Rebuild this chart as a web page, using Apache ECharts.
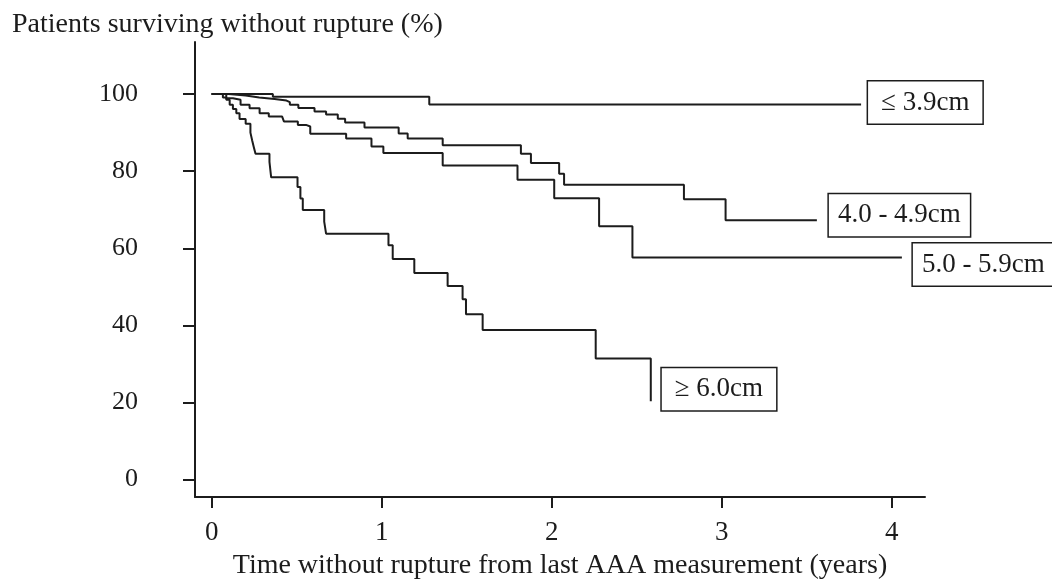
<!DOCTYPE html>
<html>
<head>
<meta charset="utf-8">
<script src="https://cdn.jsdelivr.net/npm/echarts@6/dist/echarts.min.js"></script>
<style>
  html, body { margin: 0; padding: 0; background: #fff; }
  #chart { width: 1052px; height: 585px; }
</style>
</head>
<body>
<div id="chart"></div>
<script>
// Kaplan-Meier survival without rupture, by aneurysm diameter group
const groupNames = ['≤ 3.9cm', '4.0 - 4.9cm', '5.0 - 5.9cm', '≥ 6.0cm'];

const yearsUpTo39 = [0, 0.36, 1.28, 3.82];
const survUpTo39  = [100, 99.3, 97.3, 97.3];

const years40to49 = [0, 0.10, 0.20, 0.28, 0.37, 0.44, 0.46, 0.51, 0.605, 0.673, 0.742, 0.785, 0.899,
                     1.10, 1.153, 1.359, 1.819, 1.878, 2.044, 2.073, 2.778, 3.023, 3.56];
const surv40to49  = [100, 99.6, 99.1, 98.7, 98.3, 97.9, 97.2, 96.4, 95.5, 94.7, 93.6, 92.6, 91.3,
                     89.8, 88.5, 86.7, 84.5, 82.1, 79.3, 76.5, 72.7, 67.3, 67.3];

const years50to59 = [0, 0.086, 0.125, 0.17, 0.223, 0.282, 0.336, 0.414, 0.425, 0.507, 0.555, 0.58,
                     0.791, 0.94, 1.01, 1.359, 1.799, 2.015, 2.279, 2.475, 4.06];
const surv50to59  = [100, 98.9, 98.5, 97.2, 96.3, 95.0, 94.2, 93.7, 92.9, 92.0, 91.6, 89.7,
                     88.5, 86.4, 84.7, 81.5, 77.8, 73.0, 65.7, 57.6, 57.6];

const years60plus = [0, 0.066, 0.086, 0.106, 0.125, 0.145, 0.164, 0.20, 0.228, 0.238, 0.248, 0.258,
                     0.34, 0.35, 0.505, 0.522, 0.536, 0.662, 0.673, 1.04, 1.065, 1.192, 1.388,
                     1.476, 1.496, 1.594, 2.259, 2.583];
const surv60plus  = [100, 99.1, 98.5, 97.2, 96.1, 95.0, 93.5, 92.3, 90.0, 88.0, 86.2, 84.5,
                     82.4, 78.4, 75.9, 72.9, 69.9, 66.9, 63.8, 60.8, 57.2, 53.6, 50.2,
                     46.8, 42.9, 38.8, 31.4, 20.3];

const yearTicks = [0, 1, 2, 3, 4];
const percentTicks = [0, 20, 40, 60, 80, 100];

const titleText = 'Patients surviving without rupture (%)';
const xAxisName = 'Time without rupture from last AAA measurement (years)';

const SERIF = '"Liberation Serif", "DejaVu Serif", serif';
const INK = '#1c1c1c';

function pairs(xs, ys) {
  return xs.map((x, i) => [x, ys[i]]);
}

// end-of-curve tag placement: [distance, vertical offset, horizontal padding]
const tagPlacement = [
  [7, -2, 13],
  [12, -5, 9],
  [11, 7, 9],
  [11, -12, 13]
];

const curves = [
  pairs(yearsUpTo39, survUpTo39),
  pairs(years40to49, surv40to49),
  pairs(years50to59, surv50to59),
  pairs(years60plus, surv60plus)
];

const series = curves.map((data, i) => ({
  name: groupNames[i],
  type: 'line',
  step: 'end',
  data: data,
  showSymbol: false,
  symbol: 'none',
  lineStyle: { color: INK, width: 2 },
  itemStyle: { color: INK },
  emphasis: { disabled: true },
  endLabel: {
    show: true,
    formatter: p => p.seriesName,
    distance: tagPlacement[i][0],
    offset: [0, tagPlacement[i][1]],
    fontFamily: SERIF,
    fontSize: 27,
    color: INK,
    backgroundColor: '#fff',
    borderColor: INK,
    borderWidth: 1.5,
    padding: [8, tagPlacement[i][2], 7, tagPlacement[i][2]]
  }
}));

const chart = echarts.init(document.getElementById('chart'), null, { renderer: 'canvas' });
chart.setOption({
  animation: false,
  backgroundColor: '#fff',
  title: {
    text: titleText,
    left: 7,
    top: 6,
    textStyle: { fontFamily: SERIF, fontSize: 28, fontWeight: 'normal', color: INK }
  },
  grid: { left: 195, right: 127, top: 42, bottom: 84 },
  xAxis: {
    type: 'value',
    min: -0.098,
    max: 4.196,
    name: xAxisName,
    nameLocation: 'middle',
    nameGap: 55,
    nameTextStyle: { fontFamily: SERIF, fontSize: 28, color: INK },
    axisLine: { show: true, onZero: false, lineStyle: { color: INK, width: 2 } },
    axisTick: { show: true, inside: false, length: 11, lineStyle: { color: INK, width: 2 }, customValues: yearTicks },
    axisLabel: { fontFamily: SERIF, fontSize: 27, color: INK, margin: 22, customValues: yearTicks },
    splitLine: { show: false }
  },
  yAxis: {
    type: 'value',
    min: -4.5,
    max: 113.5,
    axisLine: { show: true, onZero: false, lineStyle: { color: INK, width: 2 } },
    axisTick: { show: true, inside: false, length: 12, lineStyle: { color: INK, width: 2 }, customValues: percentTicks },
    axisLabel: { fontFamily: SERIF, fontSize: 26, color: INK, margin: 57, customValues: percentTicks },
    splitLine: { show: false }
  },
  series: series
});
</script>
</body>
</html>
